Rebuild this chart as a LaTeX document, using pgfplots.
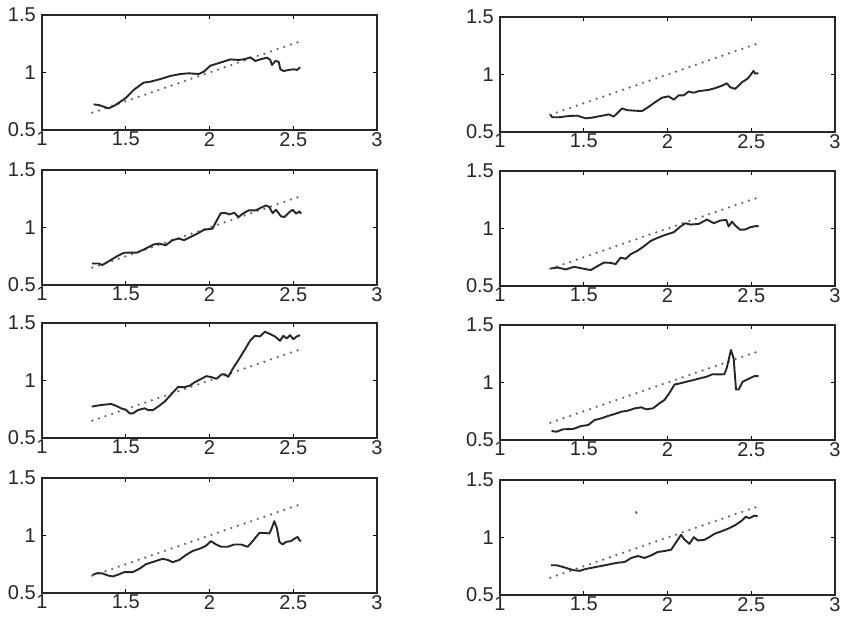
\documentclass[border=0pt]{standalone}
\usepackage{pgfplots}
\pgfplotsset{compat=1.18}
\usepackage{fontspec}
\setmainfont{Liberation Sans}
\pgfplotsset{
  panel/.style={
    scale only axis, width=335pt, height=115pt, anchor=south west,
    xmin=1, xmax=3, ymin=0.5, ymax=1.5,
    xtick={1,1.5,2,2.5,3}, ytick={0.5,1,1.5},
    xticklabels={1,1.5,2,2.5,3}, yticklabels={0.5,1,1.5},
    tick align=inside, major tick length=4pt,
    tick style={black, line width=0.9pt},
    axis line style={black!85, line width=1.3pt},
    ticklabel style={font=\fontsize{20}{20}\selectfont, text=black!85},
    xticklabel style={inner sep=1pt, yshift=-1pt},
    yticklabel style={inner sep=1pt, xshift=-5pt},
    /pgf/number format/assume math mode=true,
    clip=false,
  },
  curve/.style={black!85, line width=1.9pt, line join=round},
  ref/.style={black!60, line width=2.5pt, line cap=round, dash pattern=on 0pt off 7pt},
}
\begin{document}
\begin{tikzpicture}[x=1pt,y=1pt]
\useasboundingbox (0,0) rectangle (844,624);
% Row 1 left
\begin{axis}[panel, at={(42pt,494pt)}]
\addplot[ref] coordinates {(1.3,0.65)(2.55,1.275)};
\addplot[curve] coordinates {(1.308,0.723)(1.338,0.717)(1.398,0.688)(1.438,0.717)(1.498,0.775)(1.547,0.848)(1.607,0.912)(1.647,0.920)(1.707,0.943)(1.766,0.970)(1.826,0.987)(1.876,0.993)(1.936,0.987)(1.966,1.007)(2.005,1.059)(2.065,1.086)(2.125,1.114)(2.174,1.109)(2.214,1.117)(2.244,1.132)(2.274,1.100)(2.303,1.114)(2.343,1.129)(2.363,1.109)(2.373,1.065)(2.393,1.100)(2.413,1.094)(2.423,1.028)(2.443,1.013)(2.473,1.022)(2.502,1.028)(2.522,1.022)(2.542,1.045)};
\end{axis}
% Row 1 right
\begin{axis}[panel, at={(500pt,492pt)}]
\addplot[ref] coordinates {(1.3,0.65)(2.55,1.275)};
\addplot[curve] coordinates {(1.302,0.648)(1.312,0.628)(1.352,0.628)(1.411,0.639)(1.461,0.642)(1.511,0.619)(1.550,0.625)(1.610,0.642)(1.650,0.653)(1.679,0.634)(1.699,0.662)(1.729,0.705)(1.759,0.690)(1.808,0.685)(1.848,0.682)(1.888,0.719)(1.928,0.761)(1.967,0.798)(2.007,0.810)(2.037,0.781)(2.067,0.818)(2.096,0.818)(2.126,0.852)(2.156,0.841)(2.186,0.855)(2.245,0.866)(2.285,0.881)(2.325,0.903)(2.355,0.923)(2.374,0.889)(2.404,0.875)(2.424,0.903)(2.444,0.932)(2.474,0.960)(2.493,0.989)(2.513,1.031)(2.523,1.008)(2.543,1.011)};
\end{axis}
% Row 2 left
\begin{axis}[panel, at={(42pt,339pt)}]
\addplot[ref] coordinates {(1.3,0.65)(2.55,1.275)};
\addplot[curve] coordinates {(1.299,0.687)(1.339,0.687)(1.359,0.673)(1.399,0.707)(1.449,0.751)(1.489,0.780)(1.529,0.782)(1.569,0.782)(1.619,0.817)(1.669,0.854)(1.699,0.860)(1.739,0.846)(1.778,0.889)(1.818,0.904)(1.848,0.889)(1.888,0.918)(1.928,0.947)(1.968,0.981)(2.018,0.990)(2.038,1.047)(2.068,1.125)(2.098,1.125)(2.118,1.114)(2.148,1.128)(2.174,1.091)(2.198,1.120)(2.234,1.149)(2.277,1.149)(2.307,1.172)(2.337,1.192)(2.357,1.178)(2.377,1.125)(2.397,1.154)(2.427,1.097)(2.447,1.091)(2.477,1.134)(2.497,1.154)(2.517,1.120)(2.537,1.140)(2.547,1.120)};
\end{axis}
% Row 2 right
\begin{axis}[panel, at={(500pt,338pt)}]
\addplot[ref] coordinates {(1.3,0.65)(2.55,1.275)};
\addplot[curve] coordinates {(1.304,0.652)(1.343,0.661)(1.393,0.644)(1.442,0.667)(1.492,0.652)(1.542,0.638)(1.581,0.672)(1.621,0.704)(1.661,0.701)(1.690,0.690)(1.720,0.747)(1.750,0.736)(1.780,0.776)(1.819,0.805)(1.859,0.845)(1.899,0.891)(1.938,0.917)(1.978,0.940)(2.038,0.968)(2.077,1.017)(2.107,1.046)(2.137,1.034)(2.187,1.040)(2.236,1.078)(2.276,1.046)(2.315,1.069)(2.351,1.075)(2.365,1.017)(2.385,1.060)(2.404,1.026)(2.434,0.989)(2.464,0.991)(2.494,1.011)(2.524,1.020)(2.544,1.020)};
\end{axis}
% Row 3 left
\begin{axis}[panel, at={(42pt,186pt)}]
\addplot[ref] coordinates {(1.3,0.65)(2.55,1.275)};
\addplot[curve] coordinates {(1.297,0.773)(1.353,0.787)(1.413,0.796)(1.443,0.779)(1.473,0.758)(1.503,0.743)(1.523,0.714)(1.543,0.714)(1.573,0.743)(1.613,0.758)(1.633,0.743)(1.663,0.743)(1.693,0.773)(1.733,0.817)(1.772,0.881)(1.812,0.943)(1.852,0.943)(1.882,0.955)(1.912,0.985)(1.952,1.015)(1.982,1.038)(2.012,1.029)(2.042,1.015)(2.072,1.053)(2.092,1.053)(2.112,1.032)(2.142,1.110)(2.172,1.177)(2.212,1.271)(2.242,1.345)(2.271,1.389)(2.301,1.383)(2.331,1.424)(2.361,1.404)(2.391,1.383)(2.421,1.345)(2.441,1.389)(2.461,1.365)(2.481,1.394)(2.501,1.359)(2.521,1.383)(2.541,1.394)};
\end{axis}
% Row 3 right
\begin{axis}[panel, at={(500pt,184pt)}]
\addplot[ref] coordinates {(1.3,0.65)(2.55,1.275)};
\addplot[curve] coordinates {(1.308,0.578)(1.337,0.572)(1.377,0.593)(1.437,0.596)(1.486,0.622)(1.526,0.630)(1.565,0.674)(1.605,0.688)(1.645,0.709)(1.685,0.726)(1.724,0.746)(1.764,0.755)(1.804,0.775)(1.843,0.784)(1.873,0.767)(1.913,0.775)(1.952,0.819)(1.982,0.848)(2.012,0.910)(2.042,0.983)(2.071,0.991)(2.111,1.006)(2.151,1.020)(2.190,1.035)(2.230,1.049)(2.270,1.072)(2.310,1.070)(2.339,1.072)(2.353,1.122)(2.379,1.283)(2.395,1.210)(2.409,0.939)(2.425,0.939)(2.448,1.006)(2.488,1.035)(2.518,1.055)(2.544,1.055)};
\end{axis}
% Row 4 left
\begin{axis}[panel, at={(42pt,31pt)}]
\addplot[ref] coordinates {(1.3,0.65)(2.55,1.275)};
\addplot[curve] coordinates {(1.302,0.658)(1.332,0.673)(1.362,0.670)(1.392,0.653)(1.422,0.644)(1.452,0.658)(1.492,0.682)(1.542,0.682)(1.581,0.710)(1.621,0.751)(1.671,0.774)(1.720,0.797)(1.750,0.788)(1.780,0.768)(1.820,0.788)(1.860,0.831)(1.900,0.866)(1.949,0.889)(1.979,0.911)(2.009,0.951)(2.039,0.922)(2.069,0.902)(2.109,0.902)(2.148,0.922)(2.188,0.922)(2.228,0.902)(2.258,0.951)(2.298,1.023)(2.327,1.023)(2.357,1.017)(2.371,1.061)(2.387,1.125)(2.403,1.061)(2.417,0.945)(2.437,0.922)(2.457,0.945)(2.486,0.951)(2.516,0.980)(2.526,0.988)(2.536,0.960)(2.546,0.951)};
\end{axis}
% Row 4 right
\begin{axis}[panel, at={(500pt,29pt)}]
\addplot[ref] coordinates {(1.3,0.65)(2.55,1.275)};
\addplot[curve] coordinates {(1.304,0.759)(1.337,0.759)(1.387,0.739)(1.437,0.716)(1.476,0.710)(1.506,0.724)(1.546,0.736)(1.595,0.750)(1.645,0.764)(1.694,0.779)(1.744,0.787)(1.784,0.822)(1.823,0.839)(1.863,0.822)(1.903,0.845)(1.942,0.874)(1.982,0.882)(2.022,0.894)(2.052,0.960)(2.081,1.023)(2.101,0.983)(2.131,0.945)(2.157,1.003)(2.181,0.974)(2.220,0.980)(2.250,1.003)(2.280,1.032)(2.319,1.052)(2.359,1.075)(2.399,1.103)(2.439,1.141)(2.468,1.181)(2.488,1.167)(2.518,1.190)(2.538,1.184)};
\addplot[only marks, mark=*, mark size=1.2pt, black!60] coordinates {(1.813,1.218)};
\end{axis}
\end{tikzpicture}
\end{document}
